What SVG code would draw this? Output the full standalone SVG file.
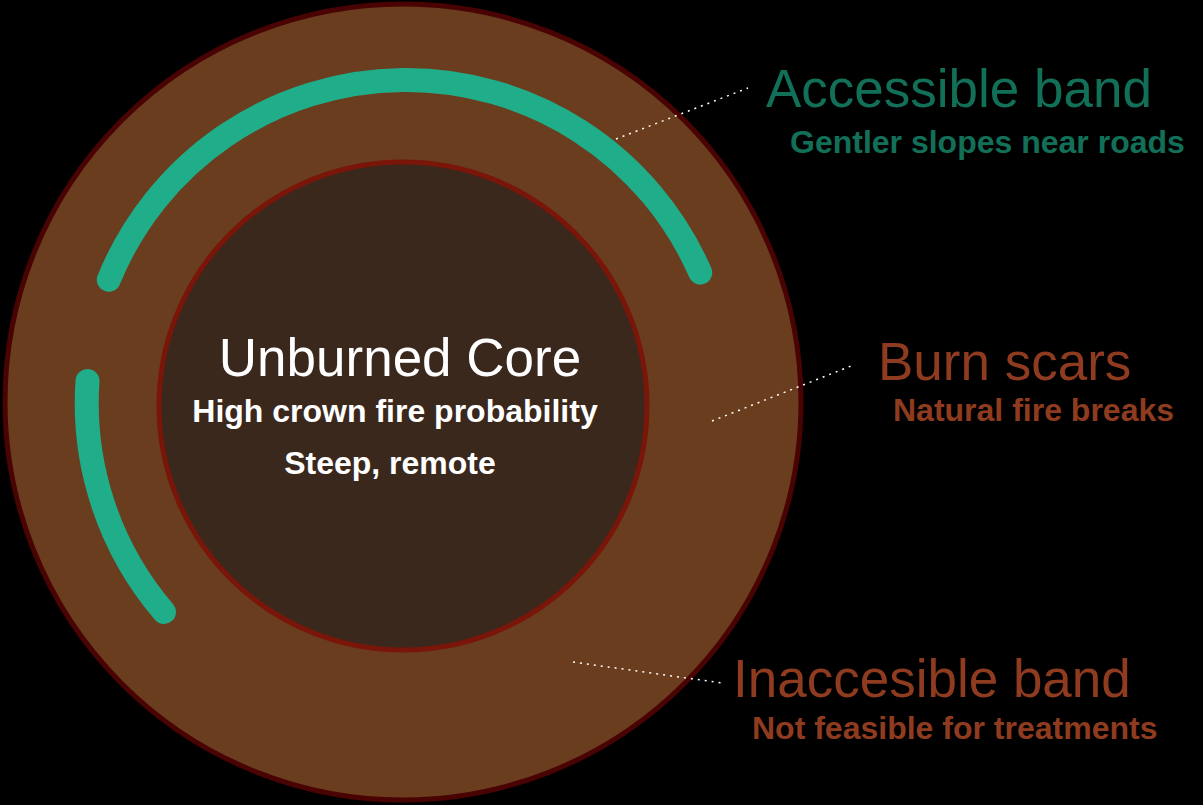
<svg xmlns="http://www.w3.org/2000/svg" width="1203" height="805" viewBox="0 0 1203 805">
<style>
.big{font-family:"Liberation Sans",Arial,sans-serif;font-size:53px}
.sub{font-family:"Liberation Sans",Arial,sans-serif;font-size:32px;font-weight:bold}
.teal{fill:#127059}
.rust{fill:#8f3b1f}
.white{fill:#ffffff}
.lead{fill:none;stroke:#ffffff;stroke-width:1.5;stroke-dasharray:2 5}
.road{fill:none;stroke:#20ad89;stroke-width:24;stroke-linecap:round}
</style>
<rect width="1203" height="805" fill="#000000"/>
<g id="inaccessible-band">
<circle cx="403" cy="402" r="398" fill="#6b3d1f" stroke="#4a0303" stroke-width="5"/>
</g>
<g id="core">
<circle cx="403" cy="406" r="244" fill="#3a281d" stroke="#7a1509" stroke-width="5"/>
<text class="big white" x="400" y="376" text-anchor="middle">Unburned Core</text>
<text class="sub white" x="395" y="422" text-anchor="middle">High crown fire probability</text>
<text class="sub white" x="390" y="474" text-anchor="middle">Steep, remote</text>
</g>
<g id="accessible-band">
<path class="road" d="M108.8,279.7 A321,321 0 0 1 700.2,272.5"/>
<path class="road" d="M87.5,381 A321,321 0 0 0 164,612"/>
</g>
<g id="connectors">
<line class="lead" x1="616" y1="139" x2="748" y2="88"/>
<line class="lead" x1="712" y1="421" x2="851" y2="366"/>
<line class="lead" x1="573" y1="662" x2="722" y2="683"/>
</g>
<g id="label-accessible">
<text class="big teal" x="766" y="107">Accessible band</text>
<text class="sub teal" x="790" y="153">Gentler slopes near roads</text>
</g>
<g id="label-burn">
<text class="big rust" x="878" y="380">Burn scars</text>
<text class="sub rust" x="893" y="421">Natural fire breaks</text>
</g>
<g id="label-inaccessible">
<text class="big rust" x="733" y="697">Inaccesible band</text>
<text class="sub rust" x="752" y="739">Not feasible for treatments</text>
</g>
</svg>
